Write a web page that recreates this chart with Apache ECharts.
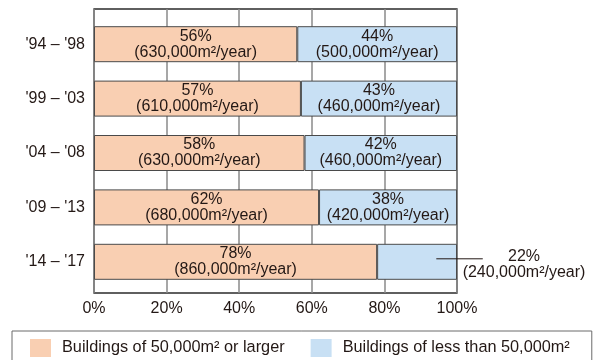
<!DOCTYPE html>
<html>
<head>
<meta charset="utf-8">
<script src="https://cdn.jsdelivr.net/npm/echarts@6/dist/echarts.min.js"></script>
<style>
  html, body { margin: 0; padding: 0; background: #fff; }
  #chart { width: 606px; height: 360px; }
</style>
</head>
<body>
<div id="chart"></div>
<script>
// Construction periods, top to bottom
const periods = ["'94 \u2013 '98", "'99 \u2013 '03", "'04 \u2013 '08", "'09 \u2013 '13", "'14 \u2013 '17"];
// Share of floor area started (%)
const largeShare = [56, 57, 58, 62, 78];
const smallShare = [44, 43, 42, 38, 22];
// Annual floor area (m²/year)
const largeArea = [630000, 610000, 630000, 680000, 860000];
const smallArea = [500000, 460000, 460000, 420000, 240000];
// Percent axis ticks
const tickValues = [0, 20, 40, 60, 80, 100];

const seriesNames = ['Buildings of 50,000m\u00b2 or larger', 'Buildings of less than 50,000m\u00b2'];
const FONT = '"Liberation Sans", Arial, Helvetica, sans-serif';
const INK = '#231815';

function fmtArea(v) {
  return String(v).replace(/\B(?=(\d{3})+(?!\d))/g, ',');
}
function segLabel(share, area) {
  return share + '%\n(' + fmtArea(area) + 'm\u00b2/year)';
}

const chart = echarts.init(document.getElementById('chart'), null, { renderer: 'canvas' });

const labelBase = {
  show: true,
  position: 'inside',
  color: INK,
  fontFamily: FONT,
  fontSize: 16,
  lineHeight: 16,
  align: 'center'
};

const lastIdx = periods.length - 1;

const option = {
  animation: false,
  backgroundColor: '#ffffff',
  textStyle: { fontFamily: FONT, color: INK },
  grid: [
    // frame with percent grid lines
    { left: 94, right: 149, top: 9, bottom: 67, show: true, borderColor: '#2b2b2b', borderWidth: 1.3, backgroundColor: 'transparent', z: 0 },
    // bars
    { left: 94, right: 149, top: 17, bottom: 71 }
  ],
  xAxis: [
    {
      gridIndex: 0, type: 'value', min: 0, max: 100, interval: 20,
      axisLine: { show: false }, axisTick: { show: false },
      axisLabel: { formatter: v => tickValues.includes(v) ? v + '%' : '', color: INK, fontSize: 16, fontFamily: FONT, margin: 8 },
      splitLine: { show: true, lineStyle: { color: '#8a8a8a', width: 1.5 } }
    },
    {
      gridIndex: 1, type: 'value', min: 0, max: 100, show: false
    }
  ],
  yAxis: [
    {
      gridIndex: 1, type: 'category', data: periods, inverse: true,
      axisLine: { show: false }, axisTick: { show: false },
      axisLabel: { color: INK, fontSize: 16, fontFamily: FONT, margin: 9 }
    },
    {
      gridIndex: 0, type: 'value', show: false
    }
  ],
  legend: {
    left: 12, top: 331,
    data: seriesNames,
    icon: 'rect',
    itemWidth: 21, itemHeight: 18,
    itemGap: 26,
    padding: [8, 22, 8, 18],
    borderColor: '#6b6b6b', borderWidth: 1,
    itemStyle: { borderWidth: 0 },
    textStyle: { color: INK, fontSize: 16.3, fontFamily: FONT, padding: [0, 0, 0, 6] }
  },
  series: [
    {
      name: seriesNames[0], type: 'bar', stack: 'share',
      xAxisIndex: 1, yAxisIndex: 0, barWidth: 36,
      itemStyle: { color: '#f9cfb2', borderColor: '#4a4a4a', borderWidth: 1 },
      label: Object.assign({}, labelBase, {
        formatter: p => segLabel(largeShare[p.dataIndex], largeArea[p.dataIndex])
      }),
      data: largeShare
    },
    {
      name: seriesNames[1], type: 'bar', stack: 'share',
      xAxisIndex: 1, yAxisIndex: 0, barWidth: 36,
      itemStyle: { color: '#c8e0f4', borderColor: '#4a4a4a', borderWidth: 1 },
      label: Object.assign({}, labelBase, {
        formatter: p => segLabel(smallShare[p.dataIndex], smallArea[p.dataIndex])
      }),
      data: smallShare.map((v, i) => i === lastIdx ? {
        value: v,
        label: { position: ['100%', '50%'], offset: [67, 3], align: 'center', verticalAlign: 'middle' }
      } : v)
    }
  ]
};

chart.setOption(option);

// Leader line from the narrow segment to its outside label
const yMid = chart.convertToPixel({ yAxisIndex: 0 }, lastIdx);
const xFrom = chart.convertToPixel({ xAxisIndex: 1 }, 94.3);
const xTo = chart.convertToPixel({ xAxisIndex: 1 }, 107.1);
chart.setOption({
  graphic: [{
    type: 'line', z: 100,
    shape: { x1: xFrom, y1: yMid - 3, x2: xTo, y2: yMid - 3 },
    style: { stroke: '#231815', lineWidth: 1 }
  }]
});
</script>
</body>
</html>
